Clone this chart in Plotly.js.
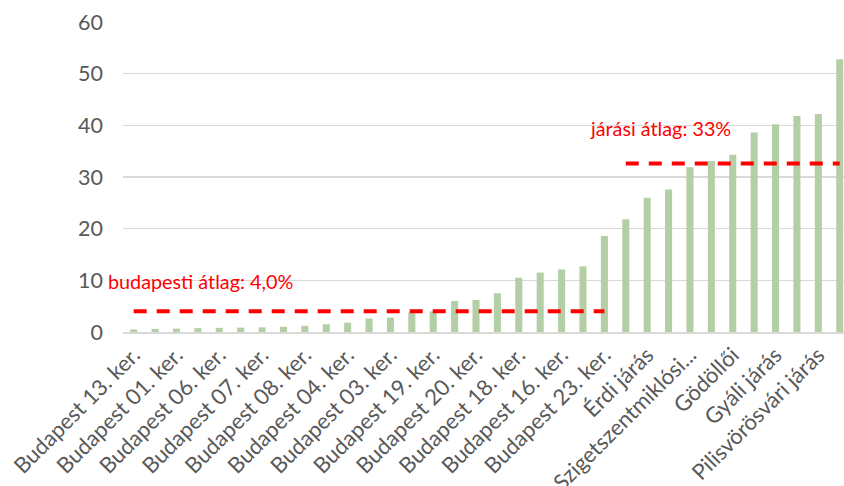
<!DOCTYPE html>
<html>
<head>
<meta charset="utf-8">
<script src="https://cdn.plot.ly/plotly-3.0.1.min.js"></script>
<style>html,body{margin:0;padding:0;background:#fff;}#chart{width:844px;height:486px;}</style>
</head>
<body>
<div id="chart"></div>
<script>
const categories = [
  "Budapest 13. ker.", "Budapest 05. ker.", "Budapest 01. ker.", "Budapest 02. ker.",
  "Budapest 06. ker.", "Budapest 12. ker.", "Budapest 07. ker.", "Budapest 11. ker.",
  "Budapest 08. ker.", "Budapest 14. ker.", "Budapest 04. ker.", "Budapest 09. ker.",
  "Budapest 03. ker.", "Budapest 10. ker.", "Budapest 19. ker.", "Budapest 15. ker.",
  "Budapest 20. ker.", "Budapest 21. ker.", "Budapest 18. ker.", "Budapest 22. ker.",
  "Budapest 16. ker.", "Budapest 17. ker.", "Budapest 23. ker.",
  "Budakeszi járás", "Érdi járás", "Dunakeszi járás", "Szigetszentmiklósi járás",
  "Szentendrei járás", "Gödöllői járás", "Vecsési járás", "Gyáli járás",
  "Monori járás", "Pilisvörösvári járás", "Ráckevei járás"
];
const values = [
  0.5, 0.6, 0.65, 0.75, 0.8, 0.85, 0.9, 1.0, 1.2, 1.5, 1.8, 2.6,
  2.8, 3.8, 4.0, 6.0, 6.2, 7.5, 10.5, 11.5, 12.1, 12.7, 18.6,
  21.8, 26.0, 27.6, 31.9, 33.1, 34.3, 38.6, 40.2, 41.8, 42.2, 52.8
];
const tickLabels = [
  "Budapest 13. ker.", "Budapest 01. ker.", "Budapest 06. ker.", "Budapest 07. ker.",
  "Budapest 08. ker.", "Budapest 04. ker.", "Budapest 03. ker.", "Budapest 19. ker.",
  "Budapest 20. ker.", "Budapest 18. ker.", "Budapest 16. ker.", "Budapest 23. ker.",
  "Érdi járás", "Szigetszentmiklósi...", "Gödöllői", "Gyáli járás", "Pilisvörösvári járás"
];
const budapestCats = categories.slice(0, 23);
const jarasCats = categories.slice(23);
const budapestAvg = 4.0;
const jarasAvg = 32.6;
const budapestLabel = "budapesti átlag: 4,0%";
const jarasLabel = "járási átlag: 33%";

const tickVals = categories.filter((c, i) => i % 2 === 0);

const traces = [
  {
    type: "bar",
    x: categories,
    y: values,
    marker: {color: "#b4cfa5"},
    hoverinfo: "x+y",
    showlegend: false
  },
  {
    type: "scatter", mode: "lines",
    x: [budapestCats[0], budapestCats[budapestCats.length - 1]],
    y: [budapestAvg, budapestAvg],
    line: {color: "#ff0000", width: 4, dash: "13px,10px"},
    showlegend: false, hoverinfo: "skip"
  },
  {
    type: "scatter", mode: "lines",
    x: [jarasCats[0], jarasCats[jarasCats.length - 1]],
    y: [jarasAvg, jarasAvg],
    line: {color: "#ff0000", width: 4, dash: "13px,10px"},
    showlegend: false, hoverinfo: "skip"
  }
];

const layout = {
  width: 844, height: 486,
  margin: {l: 123, r: 0, t: 22, b: 154, pad: 0},
  paper_bgcolor: "#ffffff", plot_bgcolor: "#ffffff",
  font: {family: "Lato, 'Open Sans', sans-serif", color: "#595959"},
  bargap: 0.67,
  xaxis: {
    type: "category",
    categoryorder: "array", categoryarray: categories,
    range: [-0.5, 33.2],
    tickmode: "array", tickvals: tickVals, ticktext: tickLabels,
    tickangle: -45,
    tickfont: {size: 22, color: "#595959"},
    showgrid: false, showline: true, linecolor: "#d9d9d9", linewidth: 1.5,
    ticks: "", automargin: false, fixedrange: true
  },
  yaxis: {
    range: [0, 60], dtick: 10, tick0: 0,
    showgrid: true, gridcolor: "#d9d9d9", gridwidth: 1.5,
    zeroline: false, showline: false, ticks: "",
    tickfont: {size: 21.5, color: "#595959"},
    ticklabelstandoff: 19,
    automargin: false, fixedrange: true
  },
  annotations: [
    {
      text: budapestLabel, xref: "paper", yref: "y",
      x: (106 - 123) / 721, y: 9.8, xanchor: "left", yanchor: "middle",
      showarrow: false, font: {size: 19.8, color: "#ff0000"}
    },
    {
      text: jarasLabel, xref: "paper", yref: "y",
      x: (588 - 123) / 721, y: 39.4, xanchor: "left", yanchor: "middle",
      showarrow: false, font: {size: 19.8, color: "#ff0000"}
    }
  ]
};

Plotly.newPlot("chart", traces, layout, {displayModeBar: false, staticPlot: true});
</script>
</body>
</html>
